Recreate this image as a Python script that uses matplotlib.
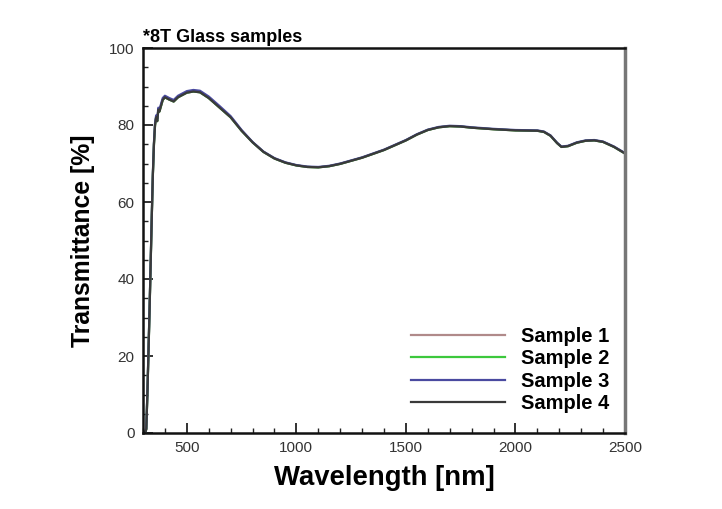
import matplotlib
matplotlib.use("Agg")
import matplotlib.pyplot as plt
from matplotlib.ticker import MultipleLocator

plt.rcParams['font.family'] = ['Liberation Sans', 'DejaVu Sans']

title = "*8T Glass samples"
x_label = "Wavelength [nm]"
y_label = "Transmittance [%]"
labels = ["Sample 1", "Sample 2", "Sample 3", "Sample 4"]
colors = ["#b08a8a", "#3cc83c", "#4a4aa0", "#3a3a3a"]

wavelength = [310, 315, 320, 325, 330, 335, 340, 345, 350, 355, 360, 365, 370, 375, 380,
              390, 400, 420, 440, 460, 500, 530, 560, 600, 650, 700, 750, 800, 850, 900,
              950, 1000, 1050, 1100, 1150, 1200, 1300, 1400, 1500, 1550, 1600, 1650, 1700,
              1750, 1800, 1900, 2000, 2100, 2130, 2160, 2190, 2210, 2240, 2280, 2320, 2360,
              2400, 2450, 2500]

sample1 = [0.0, 1.0, 10.0, 21.0, 32.0, 44.0, 56.0, 67.0, 75.0, 80.0, 82.0, 81.0, 84.0, 83.5, 84.5,
           86.5, 87.2, 86.6, 86.1, 87.2, 88.4, 88.7, 88.5, 87.0, 84.5, 82.0, 78.5, 75.5, 73.0, 71.3,
           70.2, 69.5, 69.1, 69.0, 69.3, 69.9, 71.5, 73.5, 76.0, 77.5, 78.7, 79.4, 79.7,
           79.6, 79.3, 78.9, 78.6, 78.5, 78.2, 77.2, 75.3, 74.3, 74.5, 75.4, 75.9, 76.0,
           75.6, 74.3, 72.6]
sample2 = [0.0, 1.0, 10.0, 21.0, 32.0, 44.0, 56.0, 67.0, 75.0, 80.0, 82.0, 81.0, 84.0, 83.5, 84.5,
           86.5, 87.2, 86.6, 86.1, 87.2, 88.4, 88.7, 88.5, 87.0, 84.5, 82.0, 78.5, 75.5, 73.0, 71.3,
           70.2, 69.5, 69.1, 69.0, 69.3, 69.9, 71.5, 73.5, 76.0, 77.5, 78.7, 79.4, 79.7,
           79.6, 79.3, 78.9, 78.6, 78.5, 78.2, 77.2, 75.3, 74.3, 74.5, 75.4, 75.9, 76.0,
           75.6, 74.3, 72.6]
sample3 = [0.0, 1.2, 10.5, 21.5, 32.5, 44.5, 56.5, 67.5, 75.5, 80.5, 82.5, 81.5, 84.5, 84.0, 85.0,
           87.0, 87.6, 87.0, 86.5, 87.6, 88.8, 89.1, 88.9, 87.4, 84.9, 82.3, 78.7, 75.6, 73.1, 71.4,
           70.3, 69.6, 69.2, 69.1, 69.4, 70.0, 71.6, 73.6, 76.1, 77.6, 78.8, 79.5, 79.8,
           79.7, 79.4, 79.0, 78.7, 78.6, 78.3, 77.3, 75.4, 74.4, 74.6, 75.5, 76.0, 76.1,
           75.7, 74.4, 72.7]
sample4 = [0.0, 1.0, 10.0, 21.0, 32.0, 44.0, 56.0, 67.0, 75.0, 80.0, 82.0, 81.0, 84.0, 83.5, 84.5,
           86.5, 87.2, 86.6, 86.1, 87.2, 88.4, 88.7, 88.5, 87.0, 84.5, 82.0, 78.5, 75.5, 73.0, 71.3,
           70.2, 69.5, 69.1, 69.0, 69.3, 69.9, 71.5, 73.5, 76.0, 77.5, 78.7, 79.4, 79.7,
           79.6, 79.3, 78.9, 78.6, 78.5, 78.2, 77.2, 75.3, 74.3, 74.5, 75.4, 75.9, 76.0,
           75.6, 74.3, 72.6]

x_ticks = [500, 1000, 1500, 2000, 2500]
y_ticks = [0, 20, 40, 60, 80, 100]

fig = plt.figure(figsize=(7.22, 5.09), dpi=100)
ax = fig.add_axes([143/722, 1 - 433/509, (625-143)/722, (433-48)/509])

series = [sample1, sample2, sample3, sample4]
for s, lab, c in zip(series, labels, colors):
    ax.plot(wavelength, s, color=c, lw=1.6, label=lab)

ax.set_xlim(300, 2500)
ax.set_ylim(0, 100)
ax.set_xticks(x_ticks)
ax.set_yticks(y_ticks)
ax.xaxis.set_minor_locator(MultipleLocator(100))
ax.yaxis.set_minor_locator(MultipleLocator(5))
ax.tick_params(which='both', direction='in', top=False, right=False,
               labelsize=11, labelcolor='#333333', color='#222222')
ax.tick_params(which='major', length=7, width=1.3, pad=6)
ax.tick_params(which='minor', length=3.5, width=1.0)

for side in ['left', 'bottom', 'top']:
    ax.spines[side].set_linewidth(1.8)
    ax.spines[side].set_color('#111111')
ax.spines['right'].set_linewidth(2.5)
ax.spines['right'].set_color('#777777')

ax.set_xlabel(x_label, fontsize=19.8, fontweight='bold', labelpad=7)
ax.set_ylabel(y_label, fontsize=17.8, fontweight='bold', labelpad=10)
ax.set_title(title, loc='left', fontsize=13, fontweight='bold', pad=4)

leg = ax.legend(loc='lower right', bbox_to_anchor=(0.968, 0.052), frameon=False,
                prop={'size': 14.5, 'weight': 'bold'}, handlelength=4.67,
                handletextpad=0.8, labelspacing=0.17, borderaxespad=0,
                borderpad=0)

fig.savefig("out.png", dpi=100)
